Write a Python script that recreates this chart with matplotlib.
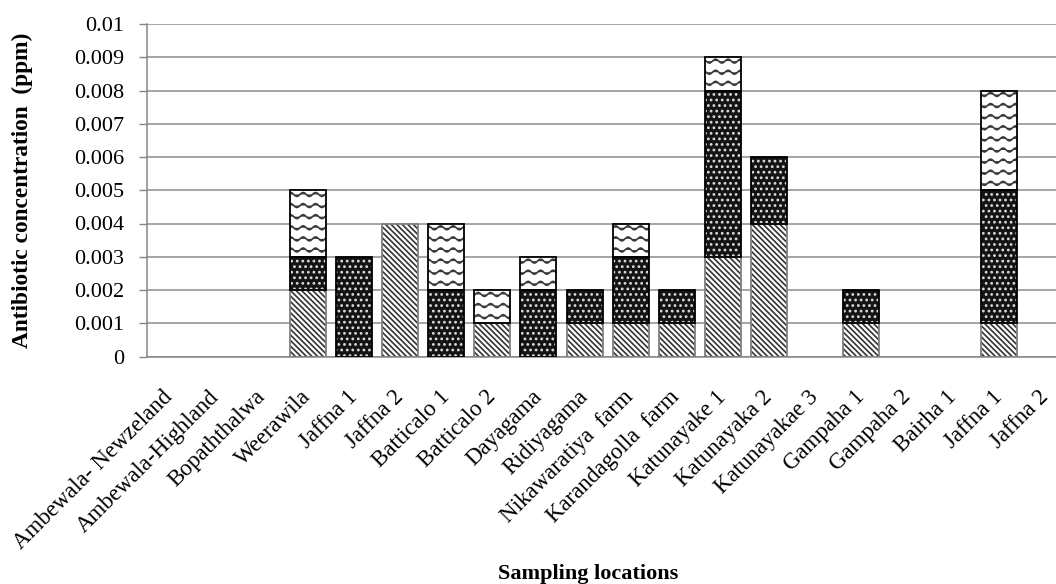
import warnings
import numpy as np
import matplotlib
matplotlib.use('Agg')
import matplotlib.pyplot as plt
import matplotlib.hatch as mhatch
from matplotlib.path import Path

warnings.filterwarnings('ignore')

#----- DATA -----

locations = ['Ambewala- Newzeland', 'Ambewala-Highland', 'Bopaththalwa', 'Weerawila',
             'Jaffna 1', 'Jaffna 2', 'Batticalo 1', 'Batticalo 2', 'Dayagama',
             'Ridiyagama', 'Nikawaratiya  farm', 'Karandagolla  farm', 'Katunayake 1',
             'Katunayaka 2', 'Katunayakae 3', 'Gampaha 1', 'Gampaha 2', 'Bairha 1',
             'Jaffna 1', 'Jaffna 2']

# three stacked antibiotics (bottom -> top)
series_diag = [0, 0, 0, 0.002, 0, 0.004, 0, 0.001, 0, 0.001,
               0.001, 0.001, 0.003, 0.004, 0, 0.001, 0, 0, 0.001, 0]
series_dots = [0, 0, 0, 0.001, 0.003, 0, 0.002, 0, 0.002, 0.001,
               0.002, 0.001, 0.005, 0.002, 0, 0.001, 0, 0, 0.004, 0]
series_wave = [0, 0, 0, 0.002, 0, 0, 0.002, 0.001, 0.001, 0,
               0.001, 0, 0.001, 0, 0, 0, 0, 0, 0.003, 0]

yticks = [0, 0.001, 0.002, 0.003, 0.004, 0.005, 0.006, 0.007, 0.008, 0.009, 0.01]
ytick_labels = ['0', '0.001', '0.002', '0.003', '0.004', '0.005',
                '0.006', '0.007', '0.008', '0.009', '0.01']

#----- custom wavy hatch ('~') -----

class WaveHatch(mhatch.HatchPatternBase):
    def __init__(self, hatch, density):
        self.num_rows = int(hatch.count('~') * density * 1.6)
        self.num_waves = 8
        self.pts = 8 * self.num_waves + 1
        self.num_vertices = self.num_rows * self.pts

    def set_vertices_and_codes(self, vertices, codes):
        xs = np.linspace(0.0, 1.0, self.pts)
        for k in range(self.num_rows):
            y0 = (k + 0.5) / self.num_rows
            sl = slice(k * self.pts, (k + 1) * self.pts)
            vertices[sl, 0] = xs
            vertices[sl, 1] = y0 + 0.02 * np.sin(2 * np.pi * self.num_waves * xs)
            codes[sl] = Path.LINETO
            codes[k * self.pts] = Path.MOVETO

mhatch._hatch_types.append(WaveHatch)

plt.rcParams['font.family'] = ['Liberation Serif', 'DejaVu Serif']
plt.rcParams['hatch.linewidth'] = 1.2

#----- PLOT -----

fig = plt.figure(figsize=(10.56, 5.84), dpi=100)
ax = fig.add_axes([146.6 / 1056, 1 - 356.5 / 584, 922 / 1056, 332.5 / 584])

x = np.arange(len(locations))
w = 0.78
diag = np.array(series_diag)
dots = np.array(series_dots)
wave = np.array(series_wave)

styles = [
    (diag, np.zeros(len(x)), 'white', '\\' * 6, '#333333', '#808080'),
    (dots, diag, '#141414', '...', '#dcdcdc', 'black'),
    (wave, diag + dots, 'white', '~', '#3a3a3a', 'black'),
]
for vals, bottom, face, hatch, hcol, border in styles:
    m = vals > 0
    ax.bar(x[m], vals[m], w, bottom=bottom[m], color=face, hatch=hatch,
           edgecolor=hcol, linewidth=0, zorder=2)
    ax.bar(x[m], vals[m], w, bottom=bottom[m], fill=False,
           edgecolor=border, linewidth=1.3, zorder=3)

ax.set_xlim(-0.5, len(x) - 0.5)
ax.set_ylim(0, 0.01)
ax.set_yticks(yticks)
ax.set_yticklabels(ytick_labels, fontsize=16)
ax.set_xticks(x)
ax.set_xticklabels(locations, fontsize=16.5, rotation=45, ha='right',
                   va='center', rotation_mode='anchor')
ax.tick_params(axis='x', length=0, pad=27)
ax.tick_params(axis='y', length=6, width=1, color='#868686', pad=10)

ax.grid(axis='y', color='#8c8c8c', linewidth=1.1, zorder=0)
ax.set_axisbelow(True)
for s in ['top', 'right']:
    ax.spines[s].set_visible(False)
for s in ['left', 'bottom']:
    ax.spines[s].set_color('#868686')
    ax.spines[s].set_linewidth(1.1)

fig.text(28.5 / 1056, 1 - 190 / 584, 'Antibiotic concentration  (ppm)',
         rotation=90, rotation_mode='anchor', ha='center', va='baseline',
         fontsize=16.8, fontweight='bold')
fig.text(588 / 1056, 1 - 579 / 584, 'Sampling locations', ha='center',
         va='baseline', fontsize=16, fontweight='bold')

fig.savefig('out.png', dpi=100)
